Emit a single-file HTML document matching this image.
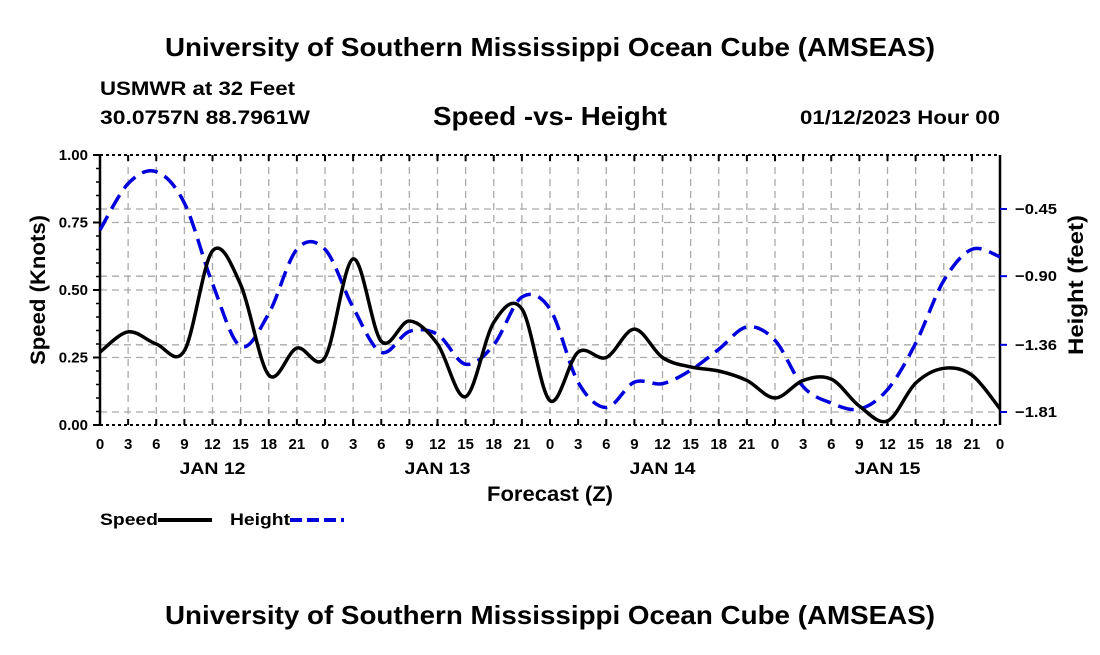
<!DOCTYPE html>
<html><head><meta charset="utf-8"><style>
body{margin:0;background:#fff;}
svg text{font-family:"Liberation Sans",sans-serif;font-weight:bold;fill:#000;}
</style></head><body>
<svg id="chart" width="1100" height="650" xmlns="http://www.w3.org/2000/svg">
<text x="165" y="56" font-size="26" textLength="770" lengthAdjust="spacingAndGlyphs">University of Southern Mississippi Ocean Cube (AMSEAS)</text>
<text x="100" y="95" font-size="19" textLength="195" lengthAdjust="spacingAndGlyphs">USMWR at 32 Feet</text>
<text x="100" y="124" font-size="19" textLength="210" lengthAdjust="spacingAndGlyphs">30.0757N  88.7961W</text>
<text x="433" y="125" font-size="26" textLength="234" lengthAdjust="spacingAndGlyphs">Speed -vs- Height</text>
<text x="800" y="124" font-size="19" textLength="200" lengthAdjust="spacingAndGlyphs">01/12/2023 Hour 00</text>
<g id="grid"></g><g id="axes"></g><g id="series"></g>
<text transform="translate(45,290) rotate(-90)" font-size="21" text-anchor="middle" textLength="150" lengthAdjust="spacingAndGlyphs">Speed (Knots)</text>
<text transform="translate(1083,285) rotate(-90)" font-size="21" text-anchor="middle" textLength="140" lengthAdjust="spacingAndGlyphs">Height (feet)</text>
<text x="550" y="501" font-size="21" text-anchor="middle" textLength="126" lengthAdjust="spacingAndGlyphs">Forecast (Z)</text>
<g>
<text x="100" y="525" font-size="17" textLength="58" lengthAdjust="spacingAndGlyphs">Speed</text>
<line x1="158" y1="520" x2="212" y2="520" stroke="#000" stroke-width="4"/>
<text x="230" y="525" font-size="17" textLength="60" lengthAdjust="spacingAndGlyphs">Height</text>
<line x1="290" y1="520" x2="344" y2="520" stroke="#0000dd" stroke-width="4" stroke-dasharray="12,5"/>
</g>
<text x="165" y="624" font-size="26" textLength="770" lengthAdjust="spacingAndGlyphs">University of Southern Mississippi Ocean Cube (AMSEAS)</text>
</svg>
<script>
const hours=[0,3,6,9,12,15,18,21,24,27,30,33,36,39,42,45,48,51,54,57,60,63,66,69,72,75,78,81,84,87,90,93,96];
const speedValues=[0.27,0.345,0.30,0.275,0.645,0.52,0.185,0.285,0.25,0.615,0.31,0.385,0.30,0.105,0.38,0.43,0.09,0.27,0.25,0.355,0.25,0.215,0.20,0.165,0.10,0.165,0.17,0.07,0.015,0.155,0.21,0.185,0.06];
const heightValues=[-0.59,-0.28,-0.20,-0.41,-0.95,-1.37,-1.15,-0.72,-0.72,-1.11,-1.41,-1.27,-1.29,-1.49,-1.36,-1.04,-1.12,-1.61,-1.78,-1.61,-1.62,-1.53,-1.39,-1.24,-1.33,-1.64,-1.75,-1.79,-1.66,-1.35,-0.93,-0.72,-0.77];
const speedTicks=[0,0.25,0.5,0.75,1.0];
const heightTicks=[-0.45,-0.90,-1.36,-1.81];
const dayLabels=["JAN 12","JAN 13","JAN 14","JAN 15"];
const X0=100,X1=1000,YT=155,YB=425;
const xs=h=>X0+(X1-X0)*h/96;
const ys=v=>YB-(YB-YT)*v/1.0;
const yh=v=>209-(v+0.45)*(203/1.36);
const NS="http://www.w3.org/2000/svg";
function mk(p,tag,attrs){const e=document.createElementNS(NS,tag);for(const k in attrs)e.setAttribute(k,attrs[k]);p.appendChild(e);return e;}
const grid=document.getElementById('grid'),axes=document.getElementById('axes'),series=document.getElementById('series');
for(let h=3;h<96;h+=3){const l=mk(grid,'line',{x1:xs(h),x2:xs(h),y1:YT,y2:YB,stroke:'#aaa','stroke-width':1.3,'stroke-dasharray':'7,5'});

}
speedTicks.slice(1,4).forEach(v=>{const l=mk(grid,'line',{x1:X0,x2:X1,y1:ys(v),y2:ys(v),stroke:'#aaa','stroke-width':1.3,'stroke-dasharray':'7,5'});

});
heightTicks.forEach(v=>{const l=mk(grid,'line',{x1:X0,x2:X1,y1:yh(v),y2:yh(v),stroke:'#aaa','stroke-width':1.3,'stroke-dasharray':'7,5'});

});
[[X0,YT,X1,YT,'top'],[X0,YB,X1,YB,'bottom']].forEach(a=>{const l=mk(axes,'line',{x1:a[0],y1:a[1],x2:a[2],y2:a[3],stroke:'#000','stroke-width':2,'stroke-dasharray':'3,3'});

});
[[X0,'left'],[X1,'right']].forEach(a=>{const l=mk(axes,'line',{x1:a[0],y1:YT,x2:a[0],y2:YB,stroke:'#000','stroke-width':2.5});

});
hours.forEach(h=>{
 mk(axes,'line',{x1:xs(h),x2:xs(h),y1:YB,y2:YB-6,stroke:'#000','stroke-width':2});
 mk(axes,'line',{x1:xs(h),x2:xs(h),y1:YT,y2:YT+6,stroke:'#000','stroke-width':2});
 const t=mk(axes,'text',{x:xs(h),y:449,'font-size':15,'text-anchor':'middle'});t.textContent=String(h%24);
 
 
});
dayLabels.forEach((d,i)=>{const t=mk(axes,'text',{x:xs(12+24*i),y:474,'font-size':17,'text-anchor':'middle',textLength:66,lengthAdjust:'spacingAndGlyphs'});t.textContent=d;

});
speedTicks.forEach(v=>{mk(axes,'line',{x1:X0-7,x2:X0,y1:ys(v),y2:ys(v),stroke:'#000','stroke-width':2});
const t=mk(axes,'text',{x:88,y:ys(v)+5,'font-size':15,'text-anchor':'end'});t.textContent=v.toFixed(2);

});
for(let v=0.05;v<1;v+=0.05){mk(axes,'line',{x1:X0-4,x2:X0,y1:ys(v),y2:ys(v),stroke:'#000','stroke-width':1.5});}
heightTicks.forEach(v=>{mk(axes,'line',{x1:X1,x2:X1+7,y1:yh(v),y2:yh(v),stroke:'#0000dd','stroke-width':2});
const t=mk(axes,'text',{x:1015,y:yh(v)+5,'font-size':15,textLength:42,lengthAdjust:'spacingAndGlyphs'});t.textContent='\u2212'+Math.abs(v).toFixed(2);

});
function smooth(pts){let d='M'+pts[0][0]+','+pts[0][1];for(let i=0;i<pts.length-1;i++){const p0=pts[Math.max(0,i-1)],p1=pts[i],p2=pts[i+1],p3=pts[Math.min(pts.length-1,i+2)];
d+=' C'+(p1[0]+(p2[0]-p0[0])/6)+','+(p1[1]+(p2[1]-p0[1])/6)+' '+(p2[0]-(p3[0]-p1[0])/6)+','+(p2[1]-(p3[1]-p1[1])/6)+' '+p2[0]+','+p2[1];}return d;}
const hp=mk(series,'path',{d:smooth(hours.map((h,i)=>[xs(h),yh(heightValues[i])])),fill:'none',stroke:'#0000dd','stroke-width':3.5,'stroke-dasharray':'16,8'});


const sp=mk(series,'path',{d:smooth(hours.map((h,i)=>[xs(h),ys(speedValues[i])])),fill:'none',stroke:'#000','stroke-width':3.5});


</script>
</body></html>
